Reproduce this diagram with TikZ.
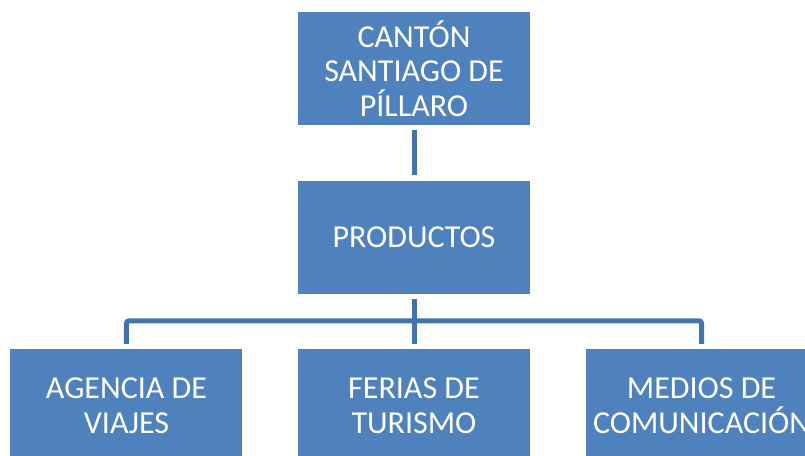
\documentclass[tikz,border=0pt]{standalone}
\usepackage{fontspec}
\setmainfont{Carlito}
\usetikzlibrary{positioning,calc}
\definecolor{boxblue}{HTML}{4F81BD}
\definecolor{linkblue}{HTML}{4473AC}
\tikzset{orgbox/.style={fill=boxblue,text=white,minimum width=174pt,minimum height=84.75pt,inner sep=2pt,align=center,font=\fontsize{24}{26}\selectfont},link/.style={draw=linkblue,line width=3.75pt,shorten >=3.75pt,shorten <=3.75pt}}

\begin{document}
\begin{tikzpicture}[x=.75pt,y=-.75pt,node distance=41.25pt]
\useasboundingbox (0,0) rectangle (805,455);
\clip (0,0) rectangle (805,455);
\node[orgbox] (canton) at (414,68.5) {CANTÓN\\SANTIAGO DE\\PÍLLARO};
\node[orgbox,below=of canton] (prod) {PRODUCTOS};
\node[orgbox,below=of prod] (ferias) {FERIAS DE\\TURISMO};
\node[orgbox,left=of ferias] (agencia) {AGENCIA DE\\VIAJES};
\node[orgbox,right=of ferias] (medios) {MEDIOS DE\\COMUNICACIÓN};
\coordinate (bus) at ($(prod.south)!.49!(ferias.north)$);
\draw[link] (canton) -- (prod);
\draw[link] (prod) -- (ferias);
\draw[link,rounded corners=2pt] (agencia) |- (bus) -| (medios);
\end{tikzpicture}
\end{document}
